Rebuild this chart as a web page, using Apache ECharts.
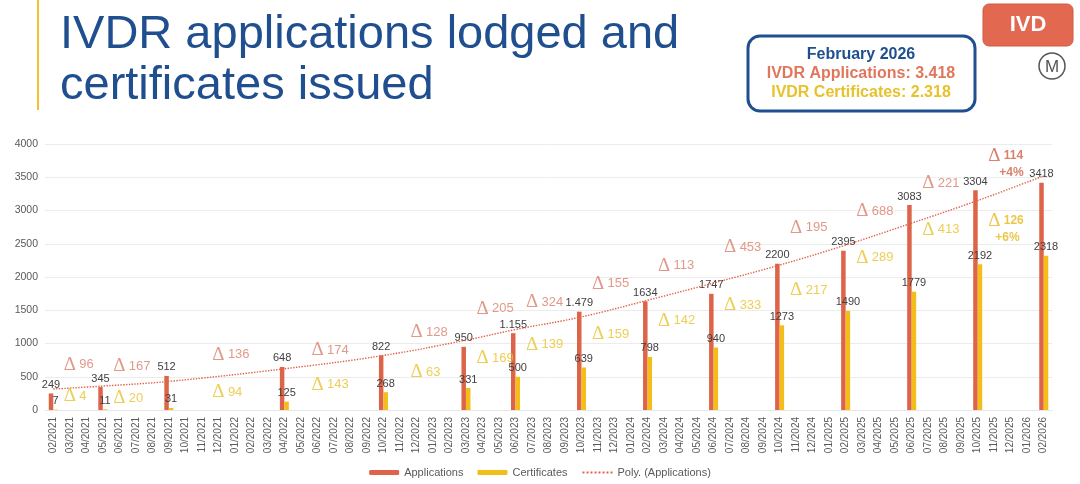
<!DOCTYPE html>
<html>
<head>
<meta charset="utf-8">
<title>IVDR applications lodged and certificates issued</title>
<script src="https://cdn.jsdelivr.net/npm/echarts@6/dist/echarts.min.js"></script>
<style>
    html, body { margin: 0; padding: 0; background: #fff; }
    #ivdr-chart { width: 1080px; height: 484px; }
</style>
</head>
<body>
<div id="ivdr-chart"></div>
<script>
var months = [
    '02/2021', '03/2021', '04/2021', '05/2021', '06/2021', '07/2021', '08/2021', '09/2021', '10/2021', '11/2021', '12/2021',
    '01/2022', '02/2022', '03/2022', '04/2022', '05/2022', '06/2022', '07/2022', '08/2022', '09/2022', '10/2022', '11/2022', '12/2022',
    '01/2023', '02/2023', '03/2023', '04/2023', '05/2023', '06/2023', '07/2023', '08/2023', '09/2023', '10/2023', '11/2023', '12/2023',
    '01/2024', '02/2024', '03/2024', '04/2024', '05/2024', '06/2024', '07/2024', '08/2024', '09/2024', '10/2024', '11/2024', '12/2024',
    '01/2025', '02/2025', '03/2025', '04/2025', '05/2025', '06/2025', '07/2025', '08/2025', '09/2025', '10/2025', '11/2025', '12/2025',
    '01/2026', '02/2026'
];

// reporting months that have bars
var barMonths = ['02/2021', '05/2021', '09/2021', '04/2022', '10/2022', '03/2023', '06/2023', '10/2023',
    '02/2024', '06/2024', '10/2024', '02/2025', '06/2025', '10/2025', '02/2026'];
var applications = [249, 345, 512, 648, 822, 950, 1155, 1479, 1634, 1747, 2200, 2395, 3083, 3304, 3418];
var certificates = [7, 11, 31, 125, 268, 331, 500, 639, 798, 940, 1273, 1490, 1779, 2192, 2318];
var applicationLabels = ['249', '345', '512', '648', '822', '950', '1.155', '1.479', '1634', '1747', '2200', '2395', '3083', '3304', '3418'];

// Poly. (Applications) trendline at the bar months
var trendApplications = [315, 360, 430, 620, 820, 1050, 1210, 1400, 1650, 1910, 2180, 2480, 2810, 3150, 3520];

// delta call-outs between reports
var deltaMonths = ['03/2021', '06/2021', '12/2021', '06/2022', '12/2022', '04/2023', '07/2023', '11/2023',
    '03/2024', '07/2024', '11/2024', '03/2025', '07/2025', '11/2025'];
var applicationDeltas = [96, 167, 136, 174, 128, 205, 324, 155, 113, 453, 195, 688, 221, 114];
var certificateDeltas = [4, 20, 94, 143, 63, 169, 139, 159, 142, 333, 217, 289, 413, 126];
var applicationDeltaLevel = [680, 660, 830, 900, 1170, 1520, 1620, 1900, 2170, 2450, 2740, 2990, 3410, 3690];
var certificateDeltaLevel = [210, 180, 270, 380, 570, 780, 980, 1140, 1340, 1580, 1800, 2290, 2710, 2715];
var applicationChange = '+4%';
var certificateChange = '+6%';

var yTicks = {min: 0, max: 4000, interval: 500};

var RED = '#dd6448',
    YELLOW = '#f3be1a',
    BLUE = '#1f4f8f';

function pairs(cats, vals) {
    return cats.map(function (c, i) { return [c, vals[i]]; });
}

function deltaLabel(deltas, change, color, boldColor, pad) {
    return {
        show: true,
        position: 'inside',
        align: 'left',
        verticalAlign: 'middle',
        offset: [-6, 0],
        formatter: function (p) {
            var i = p.dataIndex;
            if (i === deltas.length - 1) {
                return '{db|\u0394} {nb|' + deltas[i] + '}\n{pb|' + change + '}';
            }
            return '{d|\u0394} {n|' + deltas[i] + '}';
        },
        rich: {
            d: {fontFamily: 'Liberation Serif', fontSize: 19, color: color, lineHeight: 18},
            n: {fontSize: 13, color: color, lineHeight: 18},
            db: {fontFamily: 'Liberation Serif', fontSize: 19, color: boldColor, lineHeight: 17},
            nb: {fontSize: 12, fontWeight: 'bold', color: boldColor, lineHeight: 17},
            pb: {fontSize: 12, fontWeight: 'bold', color: boldColor, lineHeight: 17, padding: [0, 0, 0, pad]}
        }
    };
}

var chart = echarts.init(document.getElementById('ivdr-chart'));
chart.setOption({
    animation: false,
    textStyle: {fontFamily: 'Liberation Sans'},
    grid: {left: 45, right: 28, top: 144, bottom: 74, containLabel: false},
    legend: {
        data: [
            'Applications',
            'Certificates',
            {name: 'Poly. (Applications)', itemStyle: {color: 'rgba(0,0,0,0)', borderWidth: 0}}
        ],
        left: 'center',
        top: 462,
        itemWidth: 30,
        itemHeight: 5,
        itemGap: 14,
        textStyle: {fontSize: 11, color: '#595959'}
    },
    xAxis: {
        type: 'category',
        data: months,
        axisTick: {show: false},
        axisLine: {lineStyle: {color: '#e6e6e6'}},
        axisLabel: {interval: 0, rotate: 90, fontSize: 10, color: '#595959', margin: 7}
    },
    yAxis: {
        type: 'value',
        min: yTicks.min,
        max: yTicks.max,
        interval: yTicks.interval,
        axisLabel: {fontSize: 10.5, color: '#595959', margin: 7, formatter: function (v) { return String(v); }},
        splitLine: {lineStyle: {color: '#ececec'}}
    },
    series: [
        {
            name: 'Applications',
            type: 'bar',
            data: pairs(barMonths, applications),
            barWidth: 4.5,
            barGap: '0%',
            itemStyle: {color: RED},
            label: {
                show: true, position: 'top', distance: 3, fontSize: 11, color: '#404040',
                formatter: function (p) { return applicationLabels[p.dataIndex]; }
            },
            z: 3
        },
        {
            name: 'Certificates',
            type: 'bar',
            data: pairs(barMonths, certificates),
            barWidth: 4.5,
            itemStyle: {color: YELLOW},
            label: {show: true, position: 'top', distance: 3, fontSize: 11, color: '#404040'},
            z: 3
        },
        {
            name: 'Poly. (Applications)',
            type: 'line',
            data: pairs(barMonths, trendApplications),
            smooth: 0.4,
            symbol: 'none',
            lineStyle: {color: '#e0604a', width: 1.4, type: 'dotted'},
            itemStyle: {color: '#e0604a'},
            z: 4
        },
        {
            name: 'Application deltas',
            type: 'scatter',
            data: pairs(deltaMonths, applicationDeltaLevel),
            symbolSize: 1,
            itemStyle: {color: 'rgba(0,0,0,0)'},
            label: deltaLabel(applicationDeltas, applicationChange, '#d9806b', '#d0604a', 11),
            z: 5
        },
        {
            name: 'Certificate deltas',
            type: 'scatter',
            data: pairs(deltaMonths, certificateDeltaLevel),
            symbolSize: 1,
            itemStyle: {color: 'rgba(0,0,0,0)'},
            label: deltaLabel(certificateDeltas, certificateChange, '#e8c22c', '#e6b91a', 7),
            z: 5
        }
    ],
    graphic: [
        {type: 'line', shape: {x1: 38, y1: 0, x2: 38, y2: 110}, style: {stroke: '#f2c230', lineWidth: 2}},
        {
            type: 'text', left: 60, top: 10,
            style: {
                text: 'IVDR applications lodged and\ncertificates issued',
                font: '47px "Liberation Sans"', lineHeight: 51, fill: BLUE
            }
        },
        {type: 'rect', shape: {x: 748, y: 36, width: 227, height: 75, r: 12}, style: {fill: '#fff', stroke: BLUE, lineWidth: 3}},
        {type: 'text', x: 861, y: 55, style: {text: 'February 2026', font: 'bold 16px "Liberation Sans"', fill: BLUE, align: 'center', verticalAlign: 'middle'}},
        {type: 'text', x: 861, y: 74, style: {text: 'IVDR Applications: 3.418', font: 'bold 16px "Liberation Sans"', fill: '#e0765c', align: 'center', verticalAlign: 'middle'}},
        {type: 'text', x: 861, y: 93, style: {text: 'IVDR Certificates: 2.318', font: 'bold 16px "Liberation Sans"', fill: '#e8c22c', align: 'center', verticalAlign: 'middle'}},
        {type: 'rect', shape: {x: 983, y: 4, width: 90, height: 42, r: 6}, style: {fill: '#e2694f', stroke: '#d05a42', lineWidth: 1}},
        {type: 'text', x: 1028, y: 25, style: {text: 'IVD', font: 'bold 22px "Liberation Sans"', fill: '#fff', align: 'center', verticalAlign: 'middle'}},
        {type: 'circle', shape: {cx: 1052, cy: 66, r: 13}, style: {fill: 'none', stroke: '#555', lineWidth: 1.5}},
        {type: 'text', x: 1052, y: 67, style: {text: 'M', font: '17px "Liberation Sans"', fill: '#555', align: 'center', verticalAlign: 'middle'}}
    ]
});

window.onresize = function () {
    chart.resize();
};
</script>
</body>
</html>
